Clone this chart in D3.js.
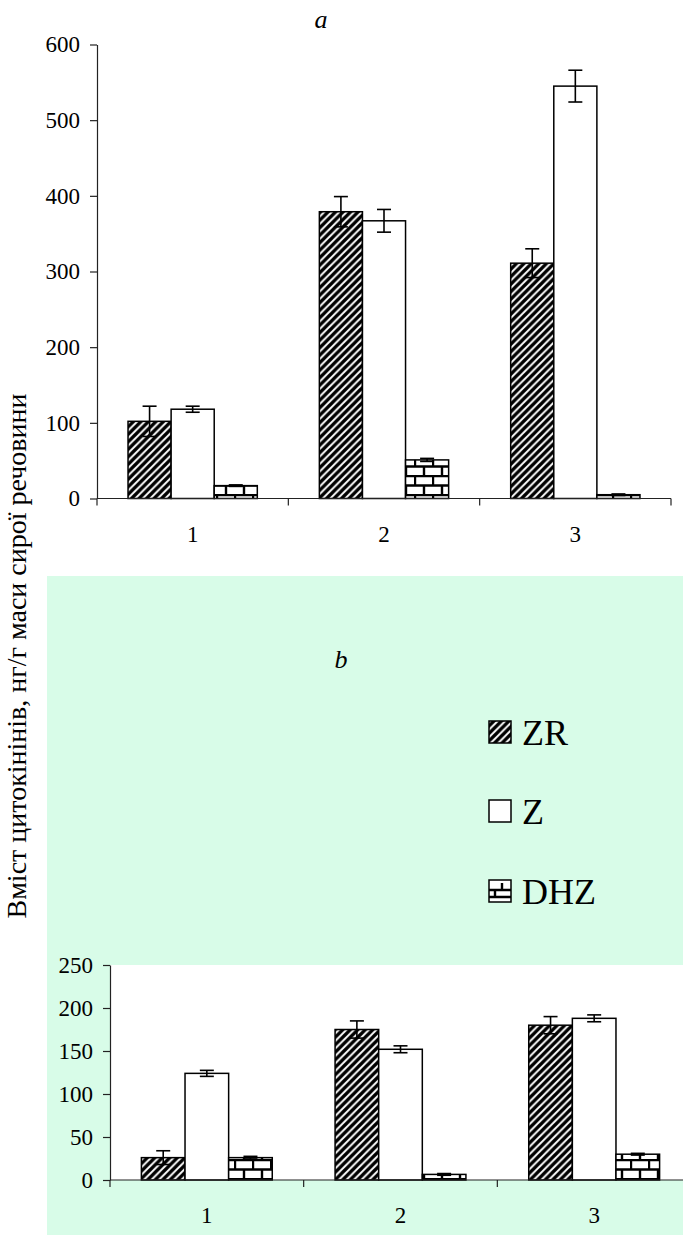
<!DOCTYPE html>
<html>
<head>
<meta charset="utf-8">
<script src="https://cdn.jsdelivr.net/npm/d3@7/dist/d3.min.js"></script>
<style>
  html, body { margin: 0; padding: 0; background: #fff; }
  svg { display: block; }
  svg text { font-family: "Liberation Serif", "Times New Roman", Times, "DejaVu Serif", serif !important; fill: #000; }
</style>
</head>
<body>
<svg id="chart" width="683" height="1235"></svg>
<script>
// Groups on the x axis and the three cytokinin fractions
const categories = ["1", "2", "3"];
const series = ["ZR", "Z", "DHZ"];

// Panel a — content, ng/g fresh weight, with error margins
const aZR = [102, 379, 311];
const aZRerr = [20, 20, 19];
const aZ = [118, 367, 545];
const aZerr = [4, 15, 21];
const aDHZ = [17, 51, 5];
const aDHZerr = [1, 2, 1];
const aTicks = [0, 100, 200, 300, 400, 500, 600];

// Panel b
const bZR = [26, 175, 180];
const bZRerr = [8, 10, 10];
const bZ = [124, 152, 188];
const bZerr = [3.5, 4, 4];
const bDHZ = [26, 6.5, 30];
const bDHZerr = [1.5, 1, 1];
const bTicks = [0, 50, 100, 150, 200, 250];

const yTitle = "Вміст цитокінінів, нг/г маси сирої речовини";
const SERIF = '"Liberation Serif", "Times New Roman", Times, serif';

const svg = d3.select("#chart");
const defs = svg.append("defs");

// Upward diagonal hatch
const hatch = defs.append("pattern").attr("id", "hatch")
  .attr("patternUnits", "userSpaceOnUse").attr("width", 7.5).attr("height", 7.5);
hatch.append("rect").attr("width", 7.5).attr("height", 7.5).attr("fill", "#fff");
hatch.append("path")
  .attr("d", "M-1.875,1.875 L1.875,-1.875 M0,7.5 L7.5,0 M5.625,9.375 L9.375,5.625")
  .attr("stroke", "#000").attr("stroke-width", 3.4);

// Brick pattern
const brick = defs.append("pattern").attr("id", "brick")
  .attr("patternUnits", "userSpaceOnUse").attr("width", 18).attr("height", 19);
brick.append("rect").attr("width", 18).attr("height", 19).attr("fill", "#fff");
brick.append("path")
  .attr("d", "M0,1 H18 M0,10.5 H18 M1,1 V10.5 M10,10.5 V19")
  .attr("stroke", "#000").attr("stroke-width", 2.4);

// Small brick for the legend swatch
const brickS = defs.append("pattern").attr("id", "brickS")
  .attr("patternUnits", "userSpaceOnUse").attr("width", 22).attr("height", 22)
  .attr("x", 489).attr("y", 880);
brickS.append("rect").attr("width", 22).attr("height", 22).attr("fill", "#fff");
brickS.append("path")
  .attr("d", "M0,10 H22 M0,17 H22 M13,3 V10 M6,10 V17")
  .attr("stroke", "#000").attr("stroke-width", 2.4);

const fills = { ZR: "url(#hatch)", Z: "#fff", DHZ: "url(#brick)" };

// Chart area of panel b
svg.append("rect").attr("x", 47).attr("y", 576).attr("width", 636).attr("height", 659)
  .attr("fill", "#d8fce8");
svg.append("rect").attr("x", 110).attr("y", 965).attr("width", 573).attr("height", 215)
  .attr("fill", "#fff");

function panel(cfg) {
  const x = d3.scaleBand().domain(categories).range([cfg.x0, cfg.x1]).padding(0);
  const xs = d3.scaleBand().domain(series).range([0, x.bandwidth()])
    .paddingInner(0).paddingOuter(0.72);
  const y = d3.scaleLinear().domain([0, cfg.max]).range([cfg.y0, cfg.yTop]);

  const g = svg.append("g");

  // y axis
  const ya = g.append("g").attr("transform", `translate(${cfg.x0},0)`)
    .call(d3.axisLeft(y).tickValues(cfg.ticks).tickSize(7).tickSizeOuter(0).tickPadding(10));
  ya.attr("font-family", SERIF).attr("font-size", 23);
  ya.selectAll("path, line").attr("stroke", "#222").attr("stroke-width", 1.2);
  ya.selectAll("text").attr("font-family", SERIF).attr("font-size", 23);

  // bars
  const rows = [];
  categories.forEach((c, i) => {
    series.forEach(s => {
      rows.push({ c, s, v: cfg.vals[s][i], e: cfg.errs[s][i] });
    });
  });
  g.selectAll("rect.bar").data(rows).enter().append("rect")
    .attr("class", "bar")
    .attr("x", d => x(d.c) + xs(d.s))
    .attr("y", d => y(d.v))
    .attr("width", xs.bandwidth())
    .attr("height", d => y(0) - y(d.v))
    .attr("fill", d => fills[d.s])
    .attr("stroke", "#000").attr("stroke-width", 1.5);

  // error bars
  const eb = g.selectAll("g.err").data(rows).enter().append("g")
    .attr("transform", d => `translate(${x(d.c) + xs(d.s) + xs.bandwidth() / 2},0)`);
  eb.append("line").attr("y1", d => y(d.v + d.e)).attr("y2", d => y(Math.max(0, d.v - d.e)))
    .attr("stroke", "#000").attr("stroke-width", 1.6);
  eb.append("line").attr("x1", -7).attr("x2", 7)
    .attr("y1", d => y(d.v + d.e)).attr("y2", d => y(d.v + d.e))
    .attr("stroke", "#000").attr("stroke-width", 1.6);
  eb.append("line").attr("x1", -7).attr("x2", 7)
    .attr("y1", d => y(Math.max(0, d.v - d.e))).attr("y2", d => y(Math.max(0, d.v - d.e)))
    .attr("stroke", "#000").attr("stroke-width", 1.6);

  // category axis: line, boundary ticks, centred labels
  g.append("line").attr("x1", cfg.x0).attr("x2", cfg.x1).attr("y1", y(0)).attr("y2", y(0))
    .attr("stroke", "#222").attr("stroke-width", 1.2);
  const bounds = categories.map(c => x(c)).concat([x(categories[categories.length - 1]) + x.bandwidth()]);
  g.selectAll("line.bt").data(bounds).enter().append("line")
    .attr("x1", d => d).attr("x2", d => d).attr("y1", y(0)).attr("y2", y(0) + 7)
    .attr("stroke", "#222").attr("stroke-width", 1.2);
  g.selectAll("text.cat").data(categories).enter().append("text")
    .attr("x", d => x(d) + x.bandwidth() / 2).attr("y", y(0) + 43)
    .attr("text-anchor", "middle").attr("font-family", SERIF).attr("font-size", 23).text(d => d);
}

panel({
  x0: 97, x1: 671, y0: 498.5, yTop: 44.5, max: 600, ticks: aTicks,
  vals: { ZR: aZR, Z: aZ, DHZ: aDHZ }, errs: { ZR: aZRerr, Z: aZerr, DHZ: aDHZerr }
});
panel({
  x0: 110, x1: 691, y0: 1180, yTop: 965, max: 250, ticks: bTicks,
  vals: { ZR: bZR, Z: bZ, DHZ: bDHZ }, errs: { ZR: bZRerr, Z: bZerr, DHZ: bDHZerr }
});

// panel letters
svg.append("text").attr("x", 321).attr("y", 28).attr("text-anchor", "middle")
  .attr("font-family", SERIF).attr("font-size", 26).attr("font-style", "italic").text("a");
svg.append("text").attr("x", 341).attr("y", 668).attr("text-anchor", "middle")
  .attr("font-family", SERIF).attr("font-size", 26).attr("font-style", "italic").text("b");

// legend
const legY = [732, 811, 891];
const lg = svg.append("g");
series.forEach((s, i) => {
  lg.append("rect").attr("x", 489).attr("y", legY[i] - 11).attr("width", 22).attr("height", 22)
    .attr("fill", s === "DHZ" ? "url(#brickS)" : fills[s])
    .attr("stroke", "#000").attr("stroke-width", 1.5);
  lg.append("text").attr("x", 522).attr("y", legY[i] + 13)
    .attr("font-family", SERIF).attr("font-size", 36).text(s);
});

// shared y-axis title
svg.append("text").attr("transform", "translate(26,656) rotate(-90)")
  .attr("text-anchor", "middle").attr("font-family", SERIF).attr("font-size", 28).text(yTitle);
</script>
</body>
</html>
